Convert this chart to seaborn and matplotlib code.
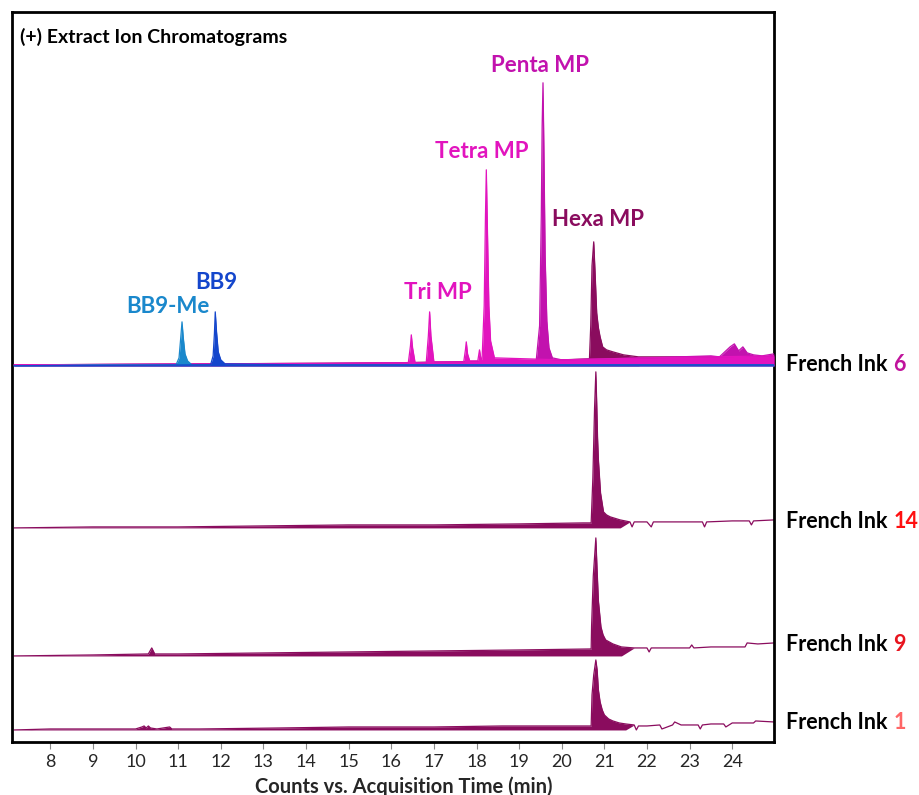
import numpy as np
import pandas as pd
import seaborn as sns
import matplotlib.pyplot as plt
import matplotlib.transforms as mtransforms

# ---------- data (retention time in min, signal above each trace floor) ---------- #
ink1_t = [7.15, 8.0, 9.5, 10.0, 10.15, 10.2, 10.25, 10.3, 10.35, 10.5, 10.8, 10.85, 11.5, 13.4,
          15.0, 17.0, 18.6, 20.5, 20.69, 20.71, 20.75, 20.80, 20.83, 20.86, 20.90, 20.95, 21.0,
          21.1, 21.2, 21.35, 21.5, 21.7, 21.75, 21.8, 22.0, 22.3, 22.35, 22.6, 22.65, 22.8,
          23.2, 23.25, 23.3, 23.5, 23.8, 23.85, 24.0, 24.5, 24.55, 24.98]
ink1_y = [0, 1, 1, 1, 3, 4, 2, 4, 2, 1, 3, 1, 1, 2,
          3, 3, 4, 4, 4, 35, 55, 70, 60, 40, 28, 20, 15,
          11, 9, 7, 6, 5, 0, 4, 4, 5, 1, 5, 8, 5,
          5, 1, 5, 6, 6, 3, 7, 7, 9, 8]

ink9_t = [7.15, 9.0, 10.3, 10.38, 10.45, 11.0, 13.0, 15.0, 17.0, 19.0, 20.69, 20.70, 20.74,
          20.80, 20.83, 20.86, 20.92, 20.97, 21.03, 21.2, 21.4, 21.7, 22.0, 22.05, 22.1, 22.5,
          23.0, 23.05, 23.1, 23.5, 24.3, 24.35, 24.6, 24.98]
ink9_y = [0, 1, 2, 8, 2, 2, 3, 4, 5, 6, 7, 30, 80,
          118, 85, 55, 29, 21, 16, 12, 9, 8, 8, 4, 8, 8,
          8, 11, 8, 9, 9, 13, 12, 13]

ink14_t = [7.15, 9.0, 11.0, 13.0, 15.0, 17.0, 19.0, 20.5, 20.69, 20.73, 20.77, 20.80, 20.82,
           20.84, 20.86, 20.91, 20.98, 21.05, 21.14, 21.37, 21.6, 21.65, 21.7, 22.0, 22.1,
           22.15, 23.0, 23.3, 23.35, 23.4, 24.0, 24.4, 24.45, 24.5, 24.98]
ink14_y = [0, 1, 1, 2, 3, 3, 4, 5, 5, 50, 120, 156, 125,
           90, 68, 35, 16, 13, 11, 8, 6, 1, 6, 6, 1,
           6, 6, 6, 1, 6, 7, 7, 3, 7, 8]

bb9me_t = [7.15, 9.0, 10.95, 11.02, 11.06, 11.09, 11.12, 11.16, 11.22, 11.32, 13.0, 18.0, 22.0, 24.98]
bb9me_y = [0, 1, 1, 8, 28, 44, 28, 12, 5, 1, 1, 1, 1, 1]

bb9_t = [7.15, 11.5, 11.76, 11.82, 11.85, 11.87, 11.90, 11.94, 12.0, 12.1, 14.0, 19.0, 24.98]
bb9_y = [0, 1, 1, 10, 32, 54, 34, 14, 6, 2, 1, 1, 1]

trimp_t = [7.15, 12.0, 16.0, 16.40, 16.45, 16.47, 16.50, 16.56, 16.82, 16.87, 16.90, 16.93,
           17.0, 17.70, 17.74, 17.76, 17.79, 17.84, 18.03, 18.07, 18.10, 18.13, 18.18, 18.21,
           18.23, 18.25, 18.29, 18.33, 18.42, 20.0, 22.0, 24.98]
trimp_y = [1, 2, 3, 3, 20, 31, 18, 3, 3, 30, 54, 30,
           4, 4, 16, 24, 12, 5, 5, 16, 8, 6, 60, 150,
           196, 150, 60, 25, 8, 6, 8, 10]

penta_t = [7.15, 14.0, 18.0, 19.40, 19.48, 19.52, 19.54, 19.56, 19.58, 19.61, 19.65, 19.70,
           19.78, 20.0, 22.0, 23.5, 23.7, 23.85, 23.95, 24.05, 24.15, 24.25, 24.35, 24.5,
           24.7, 24.98]
penta_y = [1, 2, 4, 5, 40, 150, 240, 283, 220, 110, 45, 18,
           8, 6, 8, 10, 9, 15, 19, 22, 15, 19, 13, 11,
           10, 12]

hexa_t = [7.15, 16.0, 20.0, 20.65, 20.68, 20.71, 20.75, 20.78, 20.82, 20.86, 20.90, 20.96,
          21.05, 21.2, 21.45, 21.8, 22.5, 24.98]
hexa_y = [1, 3, 6, 7, 40, 100, 124, 95, 53, 38, 29, 19,
          16, 14, 11, 9, 9, 9]

peak_names = ['BB9-Me', 'BB9', 'Tri MP', 'Tetra MP', 'Penta MP', 'Hexa MP']
peak_label_x = [10.77, 11.90, 17.10, 18.12, 19.50, 20.86]
peak_label_y = [435, 459, 449, 590, 676, 522]

ink_ids = ['6', '14', '9', '1']
ink_id_colors = ['#c0139c', '#ff1010', '#e8141e', '#ff6666']

# ---------- style ---------- #
sns.set_theme(style='white')
plt.rcParams['font.family'] = ['Lato', 'DejaVu Sans']

c_bb9me = '#1a88cc'
c_bb9 = '#1446cc'
c_tri = '#e214be'
c_penta = '#c212ae'
c_hexa = '#8a0c5e'

floor = {'6': 376, '14': 214, '9': 86, '1': 12}

fig = plt.figure(figsize=(9.2, 7.95), dpi=100)
ax = fig.add_axes([0.013, 0.0667, 0.8283, 0.9185])


def trace(t, y, base, color, fill_to=25, lw=0.9, z=2):
    df = pd.DataFrame({'t': t, 'y': np.asarray(y, dtype=float) + base})
    # filled down to the floor up to fill_to, then just the line
    lower = np.where(df['t'] <= fill_to, base, df['y'])
    ax.fill_between(df['t'], lower, df['y'], color=color, lw=0, zorder=z)
    sns.lineplot(data=df, x='t', y='y', ax=ax, color=color, lw=lw, zorder=z + 0.1)


# stacked samples, top composite is French Ink 6
trace(ink1_t, ink1_y, floor['1'], c_hexa, fill_to=21.6)
trace(ink9_t, ink9_y, floor['9'], c_hexa, fill_to=21.5)
trace(ink14_t, ink14_y, floor['14'], c_hexa, fill_to=21.4)
trace(hexa_t, hexa_y, floor['6'], c_hexa, fill_to=21.8, z=2)
trace(penta_t, penta_y, floor['6'], c_penta, z=3)
trace(trimp_t, trimp_y, floor['6'], c_tri, z=4)
trace(bb9me_t, bb9me_y, floor['6'], c_bb9me, z=5)
trace(bb9_t, bb9_y, floor['6'], c_bb9, z=6)

# peak labels
label_colors = [c_bb9me, c_bb9, c_tri, c_tri, c_penta, c_hexa]
for name, x, y, c in zip(peak_names, peak_label_x, peak_label_y, label_colors):
    ax.text(x, y, name, color=c, fontsize=16, fontweight='bold', ha='center', va='center')

ax.text(0.0105, 0.966, '(+) Extract Ion Chromatograms', transform=ax.transAxes,
        fontsize=14, fontweight='bold', ha='left', va='center', color='black')

# sample labels outside the right edge
label_y = {'6': 377, '14': 220, '9': 97, '1': 19}
trans = mtransforms.blended_transform_factory(ax.transAxes, ax.transData)
for ink, c in zip(ink_ids, ink_id_colors):
    t1 = ax.text(1.016, label_y[ink], 'French Ink', transform=trans, fontsize=15.5,
                 fontweight='bold', ha='left', va='center', color='black', clip_on=False)
    ax.annotate(ink, xy=(1, 0.5), xycoords=t1, xytext=(4, 0), textcoords='offset points',
                fontsize=15.5, fontweight='bold', ha='left', va='center', color=c)

ax.set_xlim(7.1, 24.98)
ax.set_ylim(0, 730)
ax.set_xticks(range(8, 25))
ax.set_yticks([])
ax.set_xlabel('Counts vs. Acquisition Time (min)', fontsize=14.5, fontweight='bold')
ax.xaxis.set_label_coords(0.514, -0.061)
ax.xaxis.label.set_va('center')
ax.set_ylabel('')
ax.tick_params(axis='x', bottom=True, direction='out', length=5, width=0.8, color='#888888',
               labelsize=13, pad=4)
for s in ax.spines.values():
    s.set_color('black')
    s.set_linewidth(2)

fig.savefig('out.png', dpi=100)
